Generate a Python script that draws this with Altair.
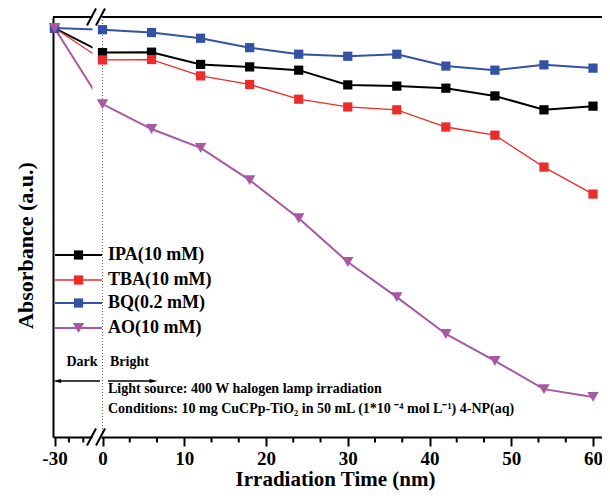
import altair as alt
import pandas as pd

# ---------------- data ----------------
times = [-30, 0, 6, 12, 18, 24, 30, 36, 42, 48, 54, 60]
series_names = ["IPA(10 mM)", "TBA(10 mM)", "BQ(0.2 mM)", "AO(10 mM)"]
ipa = [1.000, 0.940, 0.941, 0.911, 0.905, 0.897, 0.861, 0.858, 0.853, 0.834, 0.800, 0.809]
tba = [1.000, 0.922, 0.923, 0.883, 0.862, 0.826, 0.807, 0.800, 0.758, 0.738, 0.660, 0.594]
bq = [1.000, 0.996, 0.989, 0.975, 0.952, 0.936, 0.931, 0.936, 0.907, 0.897, 0.910, 0.902]
ao = [1.000, 0.814, 0.753, 0.707, 0.628, 0.535, 0.428, 0.342, 0.252, 0.186, 0.117, 0.098]
major_ticks = [-30, 0, 10, 20, 30, 40, 50, 60]
minor_ticks = [-25, -20, 3.333, 6.667, 13.333, 16.667, 23.333, 26.667, 33.333, 36.667,
               43.333, 46.667, 53.333, 56.667]

# ---------------- styles ----------------
colors = ["#000000", "#ee2b2b", "#3452a4", "#a857a3"]
shapes = ["square", "square", "square", "triangle-down"]
widths = [2, 1.3, 2, 2]
sizes = [85, 85, 85, 130]
FONT = "Liberation Serif"
W, H = 549, 420

# broken axis: left segment compressed
BREAK_START = -5.87
LEFT_SCALE = 0.352


def pos(t):
    return t if t >= 0 else BREAK_START + (t + 30) * LEFT_SCALE


xscale = alt.Scale(domain=[-6.055, 61.1], nice=False, zero=False)
yscale = alt.Scale(domain=[0, 1.027], nice=False, zero=False)

xaxis = alt.Axis(
    values=[pos(t) for t in major_ticks],
    labelExpr="datum.value < 0 ? '-30' : format(datum.value, 'd')",
    tickSize=9, tickWidth=2, tickColor="black",
    domainWidth=2, domainColor="black",
    labelFont=FONT, labelFontWeight="bold", labelFontSize=19, labelColor="black",
    labelPadding=3, labelOverlap=False, labelFlush=False,
    title="Irradiation Time (nm)", titleFont=FONT, titleFontWeight="bold",
    titleFontSize=21, titleColor="black", titleX=282, titleY=42,
    titleBaseline="middle", titleAlign="center", grid=False,
)
yaxis = alt.Axis(
    labels=False, ticks=False, domainWidth=2, domainColor="black", grid=False,
    title="Absorbance (a.u.)", titleFont=FONT, titleFontWeight="bold",
    titleFontSize=22, titleColor="black", titleAngle=270, titleBaseline="middle",
    titleAlign="center", titleX=-28, titleY=228,
)

series_layers_lines = []
series_layers_points = []
for i, (name, vals) in enumerate(zip(series_names, [ipa, tba, bq, ao])):
    d = pd.DataFrame({"t": times, "pos": [pos(t) for t in times], "value": vals, "series": name})
    if i == 0:
        enc_x = alt.X("pos:Q", scale=xscale, axis=xaxis)
        enc_y = alt.Y("value:Q", scale=yscale, axis=yaxis)
    else:
        enc_x = alt.X("pos:Q", scale=xscale)
        enc_y = alt.Y("value:Q", scale=yscale)
    series_layers_lines.append(
        alt.Chart(d).mark_line(color=colors[i], strokeWidth=widths[i]).encode(
            x=enc_x, y=enc_y, order="t:Q"))
    series_layers_points.append(
        alt.Chart(d).mark_point(filled=True, opacity=1, color=colors[i],
                                shape=shapes[i], size=sizes[i]).encode(
            x=alt.X("pos:Q", scale=xscale), y=alt.Y("value:Q", scale=yscale)))

one = pd.DataFrame({"a": [0]})

top_frame = alt.Chart(one).mark_rule(color="black", strokeWidth=2).encode(
    x=alt.value(0), x2=alt.value(W + 2), y=alt.value(0))

gap_df = pd.DataFrame({"x1": [-1.223], "x2": [-0.122]})
gap = alt.Chart(gap_df).mark_rect(color="white").encode(
    x=alt.X("x1:Q", scale=xscale), x2="x2:Q", y=alt.value(-4), y2=alt.value(H + 4))

dotted = alt.Chart(pd.DataFrame({"pos": [0]})).mark_rule(
    color="#666666", strokeWidth=1, strokeDash=[1, 2]).encode(x=alt.X("pos:Q", scale=xscale))

minor = alt.Chart(pd.DataFrame({"pos": [pos(t) for t in minor_ticks]})).mark_rule(
    color="black", strokeWidth=2).encode(
    x=alt.X("pos:Q", scale=xscale), y=alt.value(H), y2=alt.value(H + 5.5))

slash_df = pd.DataFrame({"xa": [-1.896, -0.795], "xb": [-0.795, 0.306]})
slash_top = alt.Chart(slash_df).mark_rule(color="black", strokeWidth=2).encode(
    x=alt.X("xa:Q", scale=xscale), x2="xb:Q", y=alt.value(8.5), y2=alt.value(-8.5))
slash_bot = alt.Chart(slash_df).mark_rule(color="black", strokeWidth=2).encode(
    x=alt.X("xa:Q", scale=xscale), x2="xb:Q", y=alt.value(H + 8.5), y2=alt.value(H - 8.5))


def text(label, x, y, size=14, align="left"):
    return alt.Chart(pd.DataFrame({"label": [label]})).mark_text(
        font=FONT, fontWeight="bold", fontSize=size, color="black",
        align=align, baseline="middle").encode(
        text="label:N", x=alt.value(x), y=alt.value(y))


# arrows (Dark / Bright)
arrow_df = pd.DataFrame({"xa": [-5.566, 0.673], "xb": [-0.306, 6.177]})
arrow_lines = alt.Chart(arrow_df).mark_rule(color="black", strokeWidth=1.5).encode(
    x=alt.X("xa:Q", scale=xscale), x2="xb:Q", y=alt.value(364))
head_df = pd.DataFrame({"p": [-5.566, 6.25], "dir": ["l", "r"]})
heads = alt.Chart(head_df).mark_point(filled=True, opacity=1, color="black", size=70).encode(
    x=alt.X("p:Q", scale=xscale), y=alt.value(364),
    shape=alt.Shape("dir:N", scale=alt.Scale(domain=["l", "r"],
                    range=["M-1,0L1,-0.45L1,0.45Z", "M1,0L-1,-0.45L-1,0.45Z"]), legend=None))

annots = [
    text("Dark", 29, 345, 14, "center"),
    text("Bright", 57, 345, 14),
    text("Light source: 400 W halogen lamp irradiation", 55, 372),
    text("Conditions: 10 mg CuCPp-TiO\u2082 in 50 mL (1*10 \u207b\u2074 mol L\u207b\u00b9) 4-NP(aq)", 55, 392),
]

# legend
legend_layers = []
leg_y = [238, 263, 286, 311]
for name, col, shp, sw, sz, yy in zip(series_names, colors, shapes, widths, sizes, leg_y):
    legend_layers.append(alt.Chart(one).mark_rule(color=col, strokeWidth=sw).encode(
        x=alt.value(2), x2=alt.value(49), y=alt.value(yy)))
    legend_layers.append(alt.Chart(one).mark_point(
        filled=True, opacity=1, color=col, shape=shp, size=sz).encode(
        x=alt.value(25.5), y=alt.value(yy)))
    legend_layers.append(text(name, 55, yy, 18))

chart = alt.layer(
    *series_layers_lines, top_frame, gap, dotted, minor, *series_layers_points,
    slash_top, slash_bot, arrow_lines, heads, *annots, *legend_layers
).properties(
    width=W, height=H,
    padding={"left": 45, "top": 9, "right": 0, "bottom": 55},
    autosize=alt.AutoSizeParams(type="none"),
).configure_view(stroke=None)

chart.save("out.html", embed_options={"renderer": "svg", "actions": False})
